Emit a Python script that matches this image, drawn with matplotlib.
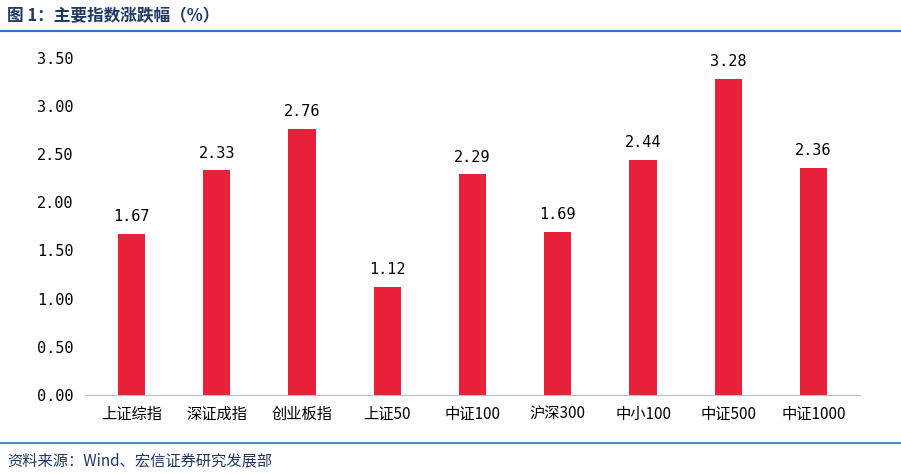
import matplotlib
matplotlib.use("Agg")
import matplotlib.pyplot as plt
from matplotlib.lines import Line2D

plt.rcParams['font.family'] = ['Noto Sans CJK SC', 'DejaVu Sans']

categories = ["上证综指", "深证成指", "创业板指", "上证50", "中证100", "沪深300", "中小100", "中证500", "中证1000"]
values = [1.67, 2.33, 2.76, 1.12, 2.29, 1.69, 2.44, 3.28, 2.36]
yticks = [0, 0.5, 1.0, 1.5, 2.0, 2.5, 3.0, 3.5]

fig = plt.figure(figsize=(9.01, 4.74), dpi=100)
ax = fig.add_axes([0.094, 0.167, 0.861, 0.711])
x = range(len(categories))
ax.bar(x, values, width=0.32, color="#E8203A")
for i, v in zip(x, values):
    ax.text(i, v + 0.1, f"{v:.2f}", ha="center", va="bottom", fontsize=11, family="DejaVu Sans Mono")
ax.set_ylim(0, 3.5)
ax.set_xlim(-0.55, len(categories) - 0.45)
ax.set_yticks(yticks)
ax.set_yticklabels([f"{t:.2f}" for t in yticks], family="DejaVu Sans Mono", fontsize=11)
ax.set_xticks(list(x))
ax.set_xticklabels(categories, fontsize=11)
for s in ["top", "right", "left"]:
    ax.spines[s].set_visible(False)
ax.spines["bottom"].set_color("#BFBFBF")
ax.tick_params(axis="both", length=0, pad=8)

fig.text(0.008, 0.965, "图 1：主要指数涨跌幅（%）", fontsize=12, fontweight="bold", color="#1F3864", va="center")
fig.add_artist(Line2D([0, 1], [0.935, 0.935], color="#2E75B6", lw=1.5, transform=fig.transFigure))
fig.add_artist(Line2D([0, 1], [0.065, 0.065], color="#2E75B6", lw=1.2, transform=fig.transFigure))
fig.text(0.008, 0.028, "资料来源：Wind、宏信证券研究发展部", fontsize=11, color="#1F3864", va="center")

fig.savefig("out.png", dpi=100)
